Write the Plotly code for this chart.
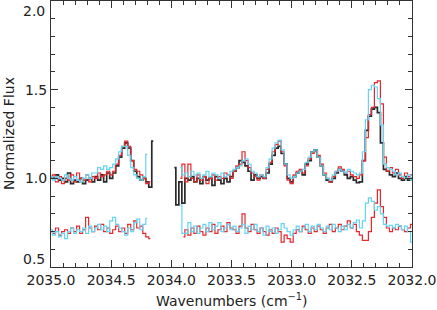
import plotly.graph_objects as go

# wavenumber grid (cm^-1), two segments either side of the gap
wn_left = [2035.000, 2034.975, 2034.950, 2034.925, 2034.900, 2034.875, 2034.850,
           2034.825, 2034.800, 2034.775, 2034.750, 2034.725, 2034.700, 2034.675,
           2034.650, 2034.625, 2034.600, 2034.575, 2034.550, 2034.525, 2034.500,
           2034.475, 2034.450, 2034.425, 2034.400, 2034.375, 2034.350, 2034.325,
           2034.300, 2034.275, 2034.250, 2034.225, 2034.200, 2034.175, 2034.150]
wn_right = [2033.975, 2033.950, 2033.925, 2033.900, 2033.875, 2033.850, 2033.825,
            2033.800, 2033.775, 2033.750, 2033.725, 2033.700, 2033.675, 2033.650,
            2033.625, 2033.600, 2033.575, 2033.550, 2033.525, 2033.500, 2033.475,
            2033.450, 2033.425, 2033.400, 2033.375, 2033.350, 2033.325, 2033.300,
            2033.275, 2033.250, 2033.225, 2033.200, 2033.175, 2033.150, 2033.125,
            2033.100, 2033.075, 2033.050, 2033.025, 2033.000, 2032.975, 2032.950,
            2032.925, 2032.900, 2032.875, 2032.850, 2032.825, 2032.800, 2032.775,
            2032.750, 2032.725, 2032.700, 2032.675, 2032.650, 2032.625, 2032.600,
            2032.575, 2032.550, 2032.525, 2032.500, 2032.475, 2032.450, 2032.425,
            2032.400, 2032.375, 2032.350, 2032.325, 2032.300, 2032.275, 2032.250,
            2032.225, 2032.200, 2032.175, 2032.150, 2032.125, 2032.100, 2032.075,
            2032.050, 2032.025, 2032.000]

# observed spectrum (black)
obs_left = [1.01, 1.00, 1.02, 0.99, 1.00, 0.98, 1.03, 0.97, 0.99, 0.98,
            1.00, 0.97, 0.99, 1.00, 0.98, 1.01, 0.99, 1.02, 0.98, 1.03,
            1.00, 1.03, 1.07, 1.12, 1.17, 1.20, 1.17, 1.10, 1.04, 1.01,
            0.99, 1.00, 0.98, 0.95, 1.21]
obs_right = [1.06, 0.85, 0.98, 0.86, 1.00, 0.99, 1.01, 0.98, 1.00, 0.97,
             1.01, 0.99, 1.00, 0.96, 1.01, 0.99, 0.97, 1.00, 0.98, 1.01,
             1.04, 1.06, 1.10, 1.09, 1.07, 1.04, 0.99, 1.02, 1.00, 1.01,
             1.00, 1.03, 1.08, 1.13, 1.17, 1.18, 1.14, 1.08, 1.00, 0.98,
             1.01, 1.03, 1.04, 1.02, 1.08, 1.10, 1.15, 1.16, 1.12, 1.07,
             1.02, 0.99, 0.98, 1.00, 1.03, 1.05, 1.04, 1.02, 1.00, 1.01,
             0.99, 0.975, 0.98, 1.10, 1.27, 1.35, 1.39, 1.40, 1.37, 1.20,
             1.05, 1.04, 1.02, 1.01, 1.03, 1.00, 0.99, 1.01, 0.99, 1.00]

# model A (red)
red_left = [1.00, 1.02, 0.98, 1.01, 0.97, 1.00, 0.99, 1.02, 0.98, 1.03,
            1.00, 0.99, 1.02, 0.98, 1.01, 1.00, 1.03, 1.01, 1.02, 1.04,
            1.02, 1.04, 1.08, 1.13, 1.18, 1.21, 1.18, 1.10, 1.05, 1.04,
            1.02, 1.00, 0.97, 0.98, None]
red_right = [None, None, 1.00, 1.08, 0.98, 1.08, 1.00, 0.98, 1.02, 0.99,
             1.01, 0.97, 1.00, 1.02, 0.99, 1.01, 1.00, 1.03, 1.02, 1.00,
             1.04, 1.07, 1.08, 1.15, 1.10, 1.06, 1.03, 1.01, 0.99, 1.02,
             1.00, 1.05, 1.09, 1.15, 1.19, 1.21, 1.15, 1.07, 0.99, 0.97,
             1.02, 1.04, 1.05, 1.03, 1.07, 1.11, 1.14, 1.15, 1.13, 1.08,
             1.03, 1.00, 0.98, 1.01, 1.04, 1.065, 1.05, 1.03, 1.04, 1.02,
             1.01, 1.00, 1.02, 1.10, 1.23, 1.36, 1.40, 1.54, 1.55, 1.42,
             1.12, 1.04, 1.06, 1.03, 1.05, 1.02, 1.00, 1.03, 1.01, 1.02]

# model B (cyan)
cyan_left = [1.01, 0.99, 1.01, 1.00, 0.99, 1.02, 1.00, 0.99, 1.01, 0.99,
             0.98, 1.00, 1.02, 1.00, 1.03, 1.03, 1.06, 1.05, 1.07, 1.05,
             1.06, 1.08, 1.11, 1.15, 1.18, 1.18, 1.13, 1.06, 1.02, 1.00,
             0.99, 1.01, 1.135, None, None]
cyan_right = [None, None, 1.06, 1.02, 1.03, 1.01, 1.04, 1.02, 1.03, 1.00,
              1.02, 1.04, 1.01, 1.03, 1.02, 1.00, 1.03, 1.01, 1.02, 1.04,
              1.05, 1.06, 1.07, 1.10, 1.11, 1.08, 1.04, 1.03, 1.01, 1.02,
              1.01, 1.06, 1.11, 1.17, 1.20, 1.215, 1.16, 1.08, 1.02, 1.00,
              1.01, 1.03, 1.04, 1.05, 1.09, 1.12, 1.15, 1.16, 1.12, 1.07,
              1.02, 1.00, 0.99, 1.02, 1.04, 1.05, 1.04, 1.03, 1.05, 1.04,
              1.03, 1.02, 1.03, 1.15, 1.33, 1.50, 1.525, 1.515, 1.45, 1.30,
              1.08, 1.06, 1.05, 1.04, 1.02, 1.03, 1.01, 1.00, 1.02, 0.99]

# residuals, offset to 0.7
red_res_left = [0.70, 0.69, 0.72, 0.68, 0.70, 0.71, 0.69, 0.72, 0.70, 0.73,
                0.69, 0.71, 0.78, 0.72, 0.70, 0.73, 0.71, 0.74, 0.70, 0.72,
                0.69, 0.71, 0.73, 0.70, 0.72, 0.69, 0.74, 0.71, 0.76, 0.72,
                0.73, 0.69, 0.67, 0.66, None]
red_res_right = [None, None, None, 0.67, 0.71, 0.68, 0.72, 0.69, 0.73, 0.70,
                 0.68, 0.72, 0.70, 0.74, 0.69, 0.71, 0.73, 0.70, 0.75, 0.72,
                 0.71, 0.69, 0.73, 0.80, 0.72, 0.70, 0.74, 0.71, 0.69, 0.72,
                 0.70, 0.68, 0.71, 0.69, 0.72, 0.70, 0.64, 0.68, 0.66, 0.64,
                 0.69, 0.71, 0.70, 0.73, 0.71, 0.69, 0.72, 0.70, 0.73, 0.71,
                 0.69, 0.72, 0.74, 0.70, 0.72, 0.74, 0.71, 0.73, 0.76, 0.72,
                 0.74, 0.70, 0.68, 0.65, 0.65, 0.70, 0.78, 0.86, 0.935, 0.84,
                 0.78, 0.72, 0.70, 0.72, 0.71, 0.73, 0.71, 0.70, 0.72, 0.74]
cyan_res_left = [0.71, 0.68, 0.70, 0.67, 0.69, 0.66, 0.70, 0.72, 0.69, 0.71,
                 0.70, 0.72, 0.69, 0.73, 0.70, 0.72, 0.74, 0.71, 0.73, 0.70,
                 0.76, 0.78, 0.74, 0.72, 0.70, 0.68, 0.72, 0.70, 0.75, 0.77,
                 0.71, 0.74, 0.775, None, None]
cyan_res_right = [None, None, 0.85, 0.69, 0.69, 0.75, 0.70, 0.73, 0.69, 0.72,
                  0.74, 0.70, 0.75, 0.71, 0.73, 0.75, 0.70, 0.72, 0.74, 0.71,
                  0.73, 0.70, 0.72, 0.74, 0.69, 0.73, 0.71, 0.74, 0.70, 0.72,
                  0.68, 0.73, 0.70, 0.72, 0.69, 0.71, 0.745, 0.72, 0.70, 0.68,
                  0.71, 0.73, 0.70, 0.72, 0.74, 0.70, 0.73, 0.71, 0.74, 0.72,
                  0.70, 0.73, 0.71, 0.74, 0.72, 0.70, 0.73, 0.71, 0.74, 0.72,
                  0.75, 0.765, 0.72, 0.76, 0.86, 0.89, 0.87, 0.82, 0.84, 0.80,
                  0.74, 0.73, 0.735, 0.72, 0.74, 0.73, 0.71, 0.73, 0.70, 0.64]

BLACK = '#2a2a2a'
RED = '#e8262b'
CYAN = '#62d4f4'
AXIS = '#333333'
FONT = 'DejaVu Sans'

wn = wn_left + [None] + wn_right

series = [
    (obs_left, obs_right, BLACK, 1.7),
    (red_left, red_right, RED, 1.2),
    (cyan_left, cyan_right, CYAN, 1.2),
    (red_res_left, red_res_right, RED, 1.2),
    (cyan_res_left, cyan_res_right, CYAN, 1.2),
]

fig = go.Figure()
for left, right, color, width in series:
    fig.add_trace(go.Scatter(
        x=wn,
        y=left + [None] + right,
        mode='lines',
        line=dict(color=color, width=width, shape='hvh'),
        connectgaps=False,
        hoverinfo='skip'
    ))

axis_common = dict(
    showline=True, linecolor=AXIS, linewidth=1, mirror='ticks',
    ticks='inside', ticklen=7, tickwidth=1, tickcolor=AXIS,
    showgrid=False, zeroline=False, automargin=False,
    tickfont=dict(family=FONT, size=14, color='#222222'),
)

fig.update_xaxes(
    range=[2035.0, 2032.0], tickmode='linear', tick0=2032.0, dtick=0.5,
    tickformat='.1f',
    minor=dict(ticks='inside', ticklen=4, tickcolor=AXIS, tickmode='linear',
               tick0=2032.0, dtick=0.1),
    **axis_common
)
fig.update_yaxes(
    range=[0.5, 2.0], tickmode='array', tickvals=[1.0, 1.5], ticktext=['1.0', '1.5'],
    minor=dict(ticks='inside', ticklen=4, tickcolor=AXIS, tickmode='linear',
               tick0=0.5, dtick=0.1),
    **axis_common
)

txt = dict(family=FONT, size=14, color='#222222')
fig.update_layout(
    template='none',
    width=437, height=310,
    margin=dict(l=51, r=25, t=1, b=43),
    plot_bgcolor='white', paper_bgcolor='white',
    showlegend=False,
    annotations=[
        # end labels of the y axis sit inside the frame, as in the original
        dict(text='2.0', xref='paper', yref='paper', x=0, y=1, xanchor='right',
             yanchor='top', xshift=-4, showarrow=False, font=txt),
        dict(text='0.5', xref='paper', yref='paper', x=0, y=0, xanchor='right',
             yanchor='bottom', xshift=-4, yshift=-2, showarrow=False, font=txt),
        dict(text='Normalized Flux', xref='paper', yref='paper', x=0, y=0.5,
             xanchor='center', yanchor='middle', xshift=-42, textangle=-90,
             showarrow=False, font=txt),
        dict(text='Wavenumbers (cm<sup>\u22121</sup>)', xref='paper', yref='paper',
             x=0.5, y=0, xanchor='center', yanchor='middle', yshift=-33,
             showarrow=False, font=txt),
    ]
)

# drop the browser's default body margin so the figure sits at the page corner
fig.write_html("out.html", config={'displayModeBar': False},
               post_script="document.body.style.margin='0';document.body.style.overflow='hidden';")
